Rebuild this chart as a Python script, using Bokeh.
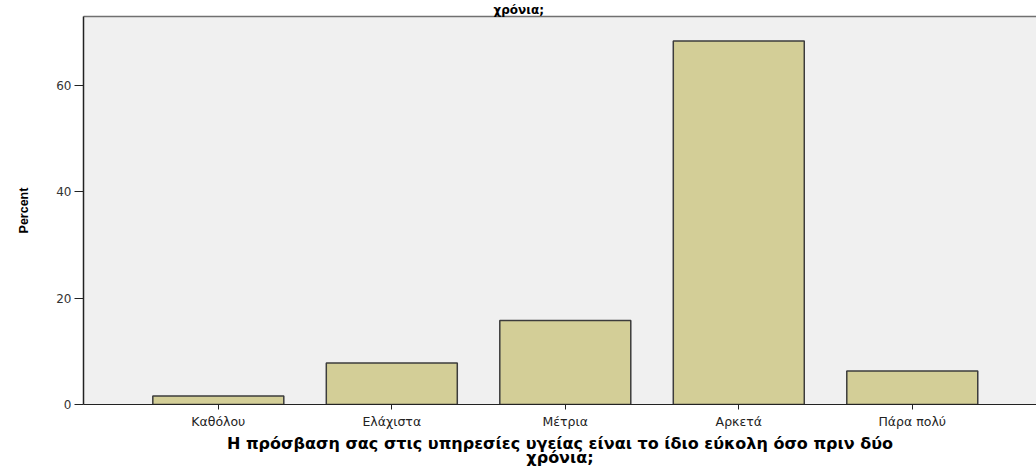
from bokeh.plotting import figure
from bokeh.models import Range1d, LinearAxis, FixedTicker, Title, ColumnDataSource
from bokeh.embed import file_html
from bokeh.resources import INLINE

# ---- data ----
categories = ["Καθόλου", "Ελάχιστα", "Μέτρια", "Αρκετά", "Πάρα πολύ"]
percent = [1.6, 7.8, 15.8, 68.4, 6.3]
y_ticks = [0, 20, 40, 60]
x_title_lines = ["Η πρόσβαση σας στις υπηρεσίες υγείας είναι το ίδιο εύκολη όσο πριν δύο",
                 "χρόνια;"]
top_title = "χρόνια;"
y_title = "Percent"

positions = list(range(len(categories)))
src = ColumnDataSource(dict(x=positions, top=percent, cat=categories))

title = Title(text=top_title, align="left", text_font_size="12px",
              text_font_style="bold", text_font="DejaVu Sans", text_color="black",
              standoff=0, offset=410)

p = figure(width=1036, height=466, output_backend="svg", toolbar_location=None,
           x_range=Range1d(-0.777, 4.716), y_range=Range1d(0, 73.0),
           min_border_left=83, min_border_right=0, min_border_top=0, min_border_bottom=62,
           background_fill_color="#f0f0f0", border_fill_color="white",
           outline_line_color=None, title=title)

p.vbar(x="x", top="top", width=0.755, source=src, fill_color="#d3ce97",
       line_color="#3c3c3c", line_width=1.5)

p.xgrid.visible = False
p.ygrid.visible = False

xa = p.xaxis[0]
xa.ticker = FixedTicker(ticks=positions)
xa.major_label_overrides = {i: c for i, c in zip(positions, categories)}
xa.minor_tick_line_color = None
xa.major_tick_out = 5
xa.major_tick_in = 0
xa.major_tick_line_color = "#222222"
xa.axis_line_color = "#222222"
xa.major_label_standoff = 4
xa.major_label_text_font = "DejaVu Sans"
xa.major_label_text_font_size = "12.5px"
xa.major_label_text_color = "#222222"

# x-axis title (two lines) stacked below the axis
for txt, so, va in zip(x_title_lines, [0, -9], ["bottom", "top"]):
    p.add_layout(Title(text=txt, align="center", text_font="DejaVu Sans",
                       text_font_style="bold", text_font_size="16px",
                       text_color="black", standoff=so, vertical_align=va), "below")

ya = p.yaxis[0]
ya.ticker = FixedTicker(ticks=y_ticks)
ya.minor_tick_line_color = None
ya.major_tick_out = 9
ya.major_tick_in = 0
ya.major_tick_line_color = "#222222"
ya.axis_line_color = "#222222"
ya.axis_line_width = 1.5
ya.major_label_standoff = 3
ya.major_label_text_font = "DejaVu Sans"
ya.major_label_text_font_size = "12px"
ya.major_label_text_color = "#333333"
ya.axis_label = y_title
ya.axis_label_text_font = "Liberation Sans"
ya.axis_label_text_font_style = "bold"
ya.axis_label_text_font_size = "12.5px"
ya.axis_label_text_color = "black"
ya.axis_label_standoff = 22

top_axis = LinearAxis(ticker=FixedTicker(ticks=[]), major_label_text_font_size="0px",
                      major_tick_out=0, major_tick_in=0, minor_tick_out=0, minor_tick_in=0,
                      axis_line_color="#707070", axis_line_width=1.5)
p.add_layout(top_axis, "above")

open("out.html", "w").write(file_html(p, INLINE))
